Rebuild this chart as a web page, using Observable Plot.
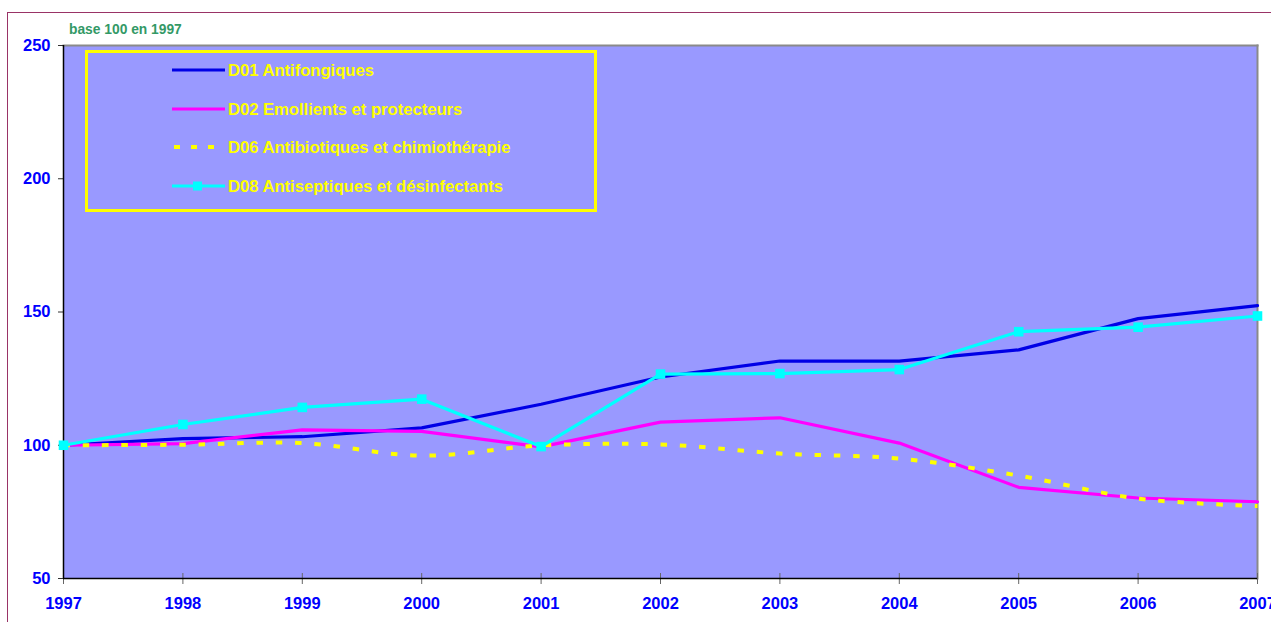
<!DOCTYPE html>
<html lang="fr">
<head>
<meta charset="utf-8">
<script src="https://cdn.jsdelivr.net/npm/d3@7"></script>
<script src="https://cdn.jsdelivr.net/npm/@observablehq/plot@0.6"></script>
<style>
  html, body { margin: 0; padding: 0; background: #fff; overflow: hidden; }
  #wrap { position: relative; width: 1271px; height: 622px; overflow: hidden;
          font-family: "Liberation Sans", Arial, sans-serif; }
  #border { position: absolute; left: 7px; top: 12px; width: 1300px; height: 700px;
            border: 1px solid #993366; box-sizing: border-box; }
  #chart { position: absolute; left: 0; top: 0; }
  #subtitle { position: absolute; left: 69px; top: 22px; font-size: 13.8px; font-weight: bold;
              color: #339966; white-space: nowrap; }
  #legend { position: absolute; left: 85px; top: 50px; width: 512px; height: 162px;
            box-sizing: border-box; border: 3px solid #ffff00; background: #9999ff; }
</style>
</head>
<body>
<div id="wrap">
  <div id="border"></div>
  <div id="chart"></div>
  <div id="subtitle">base 100 en 1997</div>
  <div id="legend"></div>
</div>
<script>
// Years on the horizontal axis
const years = [1997, 1998, 1999, 2000, 2001, 2002, 2003, 2004, 2005, 2006, 2007];
// Vertical axis ticks (index, base 100 in 1997)
const yTicks = [50, 100, 150, 200, 250];

// Index values per therapeutic class
const d01 = [100, 102.5, 103.2, 106.5, 115.4, 125.6, 131.6, 131.6, 135.8, 147.5, 152.4];
const d02 = [100, 100.6, 105.8, 105.2, 99.4, 108.7, 110.3, 100.8, 84.2, 80.2, 78.8];
const d06 = [100, 100.2, 100.8, 96.1, 99.9, 100.3, 96.9, 95.0, 88.6, 80.0, 77.2];
const d08 = [100, 107.8, 114.2, 117.3, 99.5, 126.7, 126.9, 128.4, 142.6, 144.3, 148.5];

const seriesNames = [
  "D01 Antifongiques",
  "D02 Emollients et protecteurs",
  "D06 Antibiotiques et chimiothérapie",
  "D08 Antiseptiques et désinfectants"
];
const seriesColors = ["#0000e6", "#ff00ff", "#ffff00", "#00ffff"];

const toRows = (vals) => years.map((year, i) => ({year, value: vals[i]}));
const r01 = toRows(d01), r02 = toRows(d02), r06 = toRows(d06), r08 = toRows(d08);

const font = '"Liberation Sans", Arial, sans-serif';

const chart = Plot.plot({
  width: 1271,
  height: 622,
  marginLeft: 63,
  marginRight: 14,
  marginTop: 45,
  marginBottom: 44,
  style: {background: "transparent", fontFamily: font, overflow: "visible"},
  x: {domain: [years[0], years[years.length - 1]], ticks: years, tickFormat: "d"},
  y: {domain: [yTicks[0], yTicks[yTicks.length - 1]], ticks: yTicks},
  marks: [
    Plot.frame({fill: "#9999ff"}),
    Plot.frame({anchor: "top", stroke: "#8a8a8a", strokeWidth: 2}),
    Plot.frame({anchor: "right", stroke: "#8a8a8a", strokeWidth: 2}),
    Plot.axisY({ticks: yTicks, tickSize: 5, tickPadding: 8, stroke: "#333", fill: "#0000ff",
                fontSize: 16.5, fontWeight: "bold", label: null}),
    Plot.axisX({ticks: years, tickFormat: "d", tickSize: 11, dy: -5, tickPadding: 13,
                stroke: "#666", fill: "#0000ff", fontSize: 16.5, fontWeight: "bold", label: null}),
    Plot.ruleX([years[0]], {stroke: "#000", strokeWidth: 1.5}),
    Plot.ruleY([yTicks[0]], {stroke: "#000", strokeWidth: 1.5}),
    Plot.line(r01, {x: "year", y: "value", stroke: seriesColors[0], strokeWidth: 3.2}),
    Plot.line(r02, {x: "year", y: "value", stroke: seriesColors[1], strokeWidth: 3.2}),
    Plot.line(r06, {x: "year", y: "value", stroke: seriesColors[2], strokeWidth: 4,
                    strokeDasharray: "6.5,12.8", curve: "catmull-rom", strokeLinecap: "butt"}),
    Plot.line(r08, {x: "year", y: "value", stroke: seriesColors[3], strokeWidth: 3.2}),
    Plot.dot(r08, {x: "year", y: "value", symbol: "square", r: 5.4, fill: seriesColors[3], stroke: "none"})
  ]
});
document.getElementById("chart").append(chart);

// Legend box with line swatches
const rowY = [20, 59, 97, 136];
const leg = d3.select("#legend").append("svg")
  .attr("width", 506).attr("height", 156)
  .style("position", "absolute").style("left", "0px").style("top", "0px");
seriesNames.forEach((name, i) => {
  const g = leg.append("g").attr("transform", `translate(0,${rowY[i] - 3})`);
  const line = g.append("line").attr("x1", 84).attr("x2", 137).attr("y1", 0).attr("y2", 0)
    .attr("stroke", seriesColors[i]).attr("stroke-width", i === 2 ? 4 : 3);
  if (i === 2) line.attr("stroke-dasharray", "6,11").attr("x1", 86);
  if (i === 3) g.append("rect").attr("x", 105).attr("y", -4.5).attr("width", 9).attr("height", 9)
    .attr("fill", seriesColors[3]);
  g.append("text").attr("x", 140).attr("y", 0).attr("dy", "0.35em")
    .attr("fill", "#ffff00").attr("font-family", font).attr("font-weight", "bold")
    .attr("font-size", 16.6).text(name);
});
</script>
</body>
</html>
